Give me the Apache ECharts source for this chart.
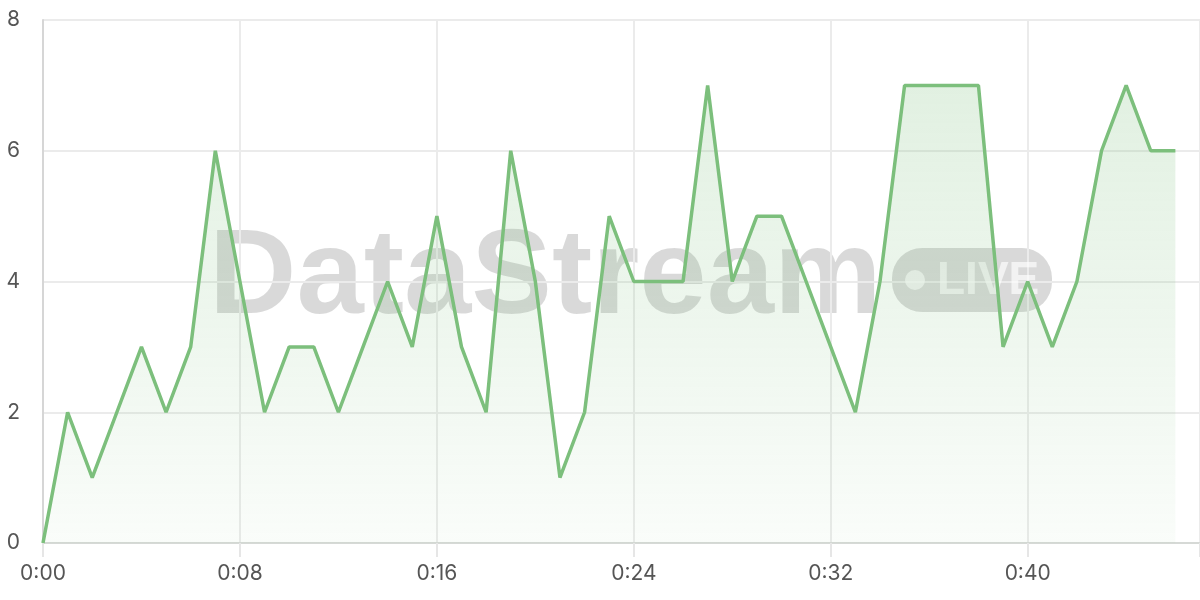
<!DOCTYPE html>
<html><head><meta charset="utf-8">
<script src="https://cdn.jsdelivr.net/npm/echarts@6/dist/echarts.min.js"></script>
<style>html,body{margin:0;padding:0;background:#fff}#c{width:1200px;height:600px}</style>
</head><body><div id="c"></div>
<script>
const times = [0,1,2,3,4,5,6,7,8,9,10,11,12,13,14,15,16,17,18,19,20,21,22,23,24,25,26,27,28,29,30,31,32,33,34,35,36,37,38,39,40,41,42,43,44,45,46];
const values = [0,2,1,2,3,2,3,6,4,2,3,3,2,3,4,3,5,3,2,6,4,1,2,5,4,4,4,7,4,5,5,4,3,2,4,7,7,7,7,3,4,3,4,6,7,6,6];
const xTickLabels = ['0:00','0:08','0:16','0:24','0:32','0:40'];
const watermarkText = "DataStream";
const badgeText = "LIVE";

const chart = echarts.init(document.getElementById('c'), null, {renderer:'canvas'});
chart.setOption({
  animation:false,
  grid:{left:43,right:0,top:20,bottom:57, containLabel:false, outerBoundsMode:'none'},
  graphic:[
    {type:'text', z:0, left:209, top:219, style:{text:watermarkText, font:'bold 121px "Liberation Sans", Arial, sans-serif', fill:'rgba(0,0,0,0.15)'}},
    {type:'rect', z:0, left:892, top:248, shape:{width:160, height:64, r:30}, style:{fill:'rgba(0,0,0,0.15)'}},
    {type:'circle', z:1, left:905, top:270, shape:{r:10}, style:{fill:'rgba(255,255,255,0.65)'}},
    {type:'text', z:1, left:937, top:258, style:{text:badgeText, font:'bold 46px "Liberation Sans", Arial, sans-serif', fill:'rgba(255,255,255,0.65)'}}
  ],
  xAxis:{type:'value', min:0, max:47, interval:8,
    axisLine:{show:true, onZero:false, lineStyle:{color:'#d6d9d6', width:2}},
    axisTick:{show:true, length:14, lineStyle:{color:'#e6e6e6', width:2}},
    axisLabel:{fontSize:21, color:'#555', margin:20, fontFamily:'Inter, "Open Sans", sans-serif',
      formatter:function(v){ return xTickLabels[v/8] || ''; }},
    splitLine:{show:true, lineStyle:{color:'#ebebeb', width:2}}
  },
  yAxis:{type:'value', min:0, max:8, interval:2,
    axisLine:{show:true, lineStyle:{color:'#d6d6d6', width:2}},
    axisTick:{show:false},
    axisLabel:{fontSize:21, color:'#555', margin:23, fontFamily:'Inter, "Open Sans", sans-serif'},
    splitLine:{show:true, lineStyle:{color:'#ebebeb', width:2}}
  },
  series:[{
    type:'line', data:times.map((t,i)=>[t, values[i]]), symbol:'none', z:3,
    lineStyle:{color:'#7cbf7c', width:3.5},
    areaStyle:{color:new echarts.graphic.LinearGradient(0,0,0,1,[
      {offset:0, color:'rgba(124,191,124,0.32)'},
      {offset:1, color:'rgba(124,191,124,0.06)'}])}
  }]
});
</script></body></html>
